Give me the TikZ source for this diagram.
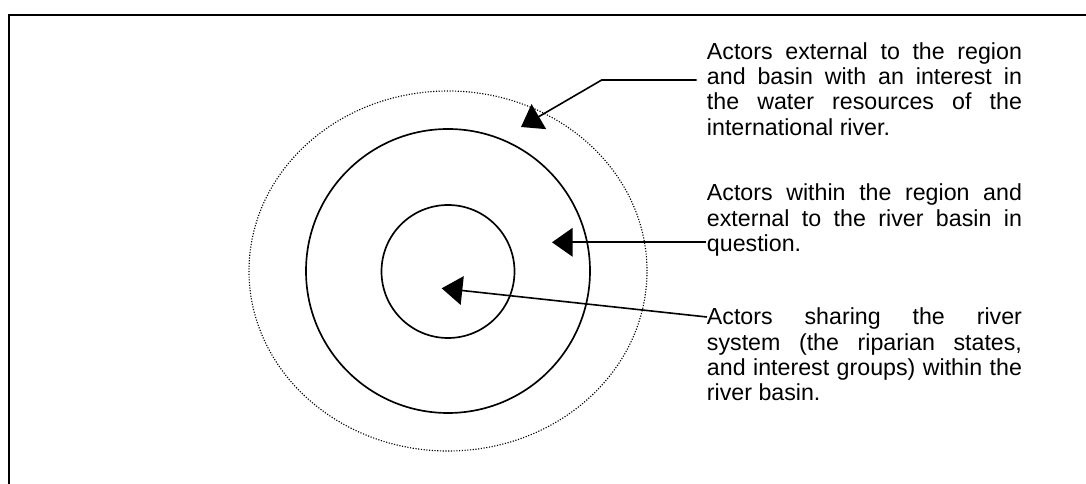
\documentclass[tikz,border=0pt]{standalone}
\usepackage{fontspec}
\setmainfont{Liberation Sans}
\usetikzlibrary{arrows.meta,shapes.geometric}
\newcommand{\jl}[1]{\makebox[\linewidth][s]{#1}\\}
\begin{document}
\begin{tikzpicture}[x=0.75pt,y=-0.75pt,
  ring/.style={draw, circle, line width=1.25pt, inner sep=0pt},
  conn/.style={line width=1.2pt, -{Triangle[length=15.5pt,width=21.5pt]}},
  blurb/.style={anchor=base west, inner sep=0pt, font=\fontsize{17.4}{19}\selectfont}
]
\useasboundingbox (0,0) rectangle (1086,484);
\draw[line width=1.6pt] (9,484) -- (9,15) -- (1086,15);
\node[ring, minimum size=99.75pt] (inner) at (448,271.5) {};
\node[ring, minimum size=213pt] (middle) at (448,271) {};
\node[draw, ellipse, inner sep=0pt, line width=0.85pt, dash pattern=on 0.85pt off 1.2pt,
      minimum width=298.5pt, minimum height=270pt] (outer) at (448,271) {};

\node[blurb] (t1) at (706.7,59.3) {\parbox[t]{236.25pt}{\jl{Actors external to the region}\jl{and basin with an interest in}\jl{the water resources of the}international river.}};
\node[blurb] (t2) at (706.7,200.7) {\parbox[t]{236.25pt}{\jl{Actors within the region and}\jl{external to the river basin in}question.}};
\node[blurb] (t3) at (706.7,325) {\parbox[t]{236.25pt}{\jl{Actors sharing the river}\jl{system (the riparian states,}\jl{and interest groups) within the}river basin.}};

\coordinate (s1) at (696.7,80);
\coordinate (k1) at (601.7,80);
\coordinate (e1) at (521,127);
\coordinate (s2) at (706,242.3);
\coordinate (e2) at (552,242.3);
\coordinate (s3) at (707,317);
\coordinate (e3) at (441.7,288.3);

\draw[conn] (s1) -- (k1) -- (e1);
\draw[conn] (s2) -- (e2);
\draw[conn] (s3) -- (e3);
\end{tikzpicture}
\end{document}
